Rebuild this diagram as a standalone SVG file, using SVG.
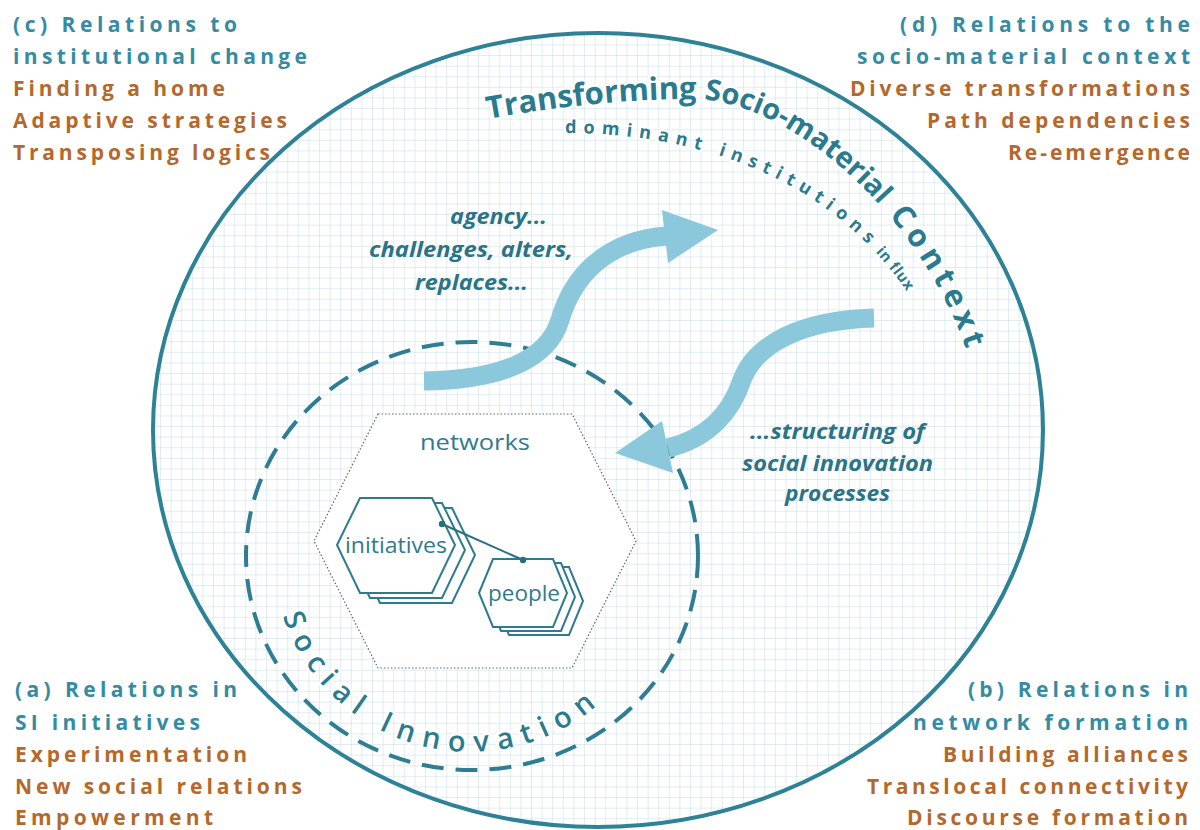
<svg xmlns="http://www.w3.org/2000/svg" width="1200" height="830" viewBox="0 0 1200 830">
<defs>
<pattern id="grid" width="10.6" height="10.6" patternUnits="userSpaceOnUse" x="2" y="3">
<path d="M10.6 0 V10.6 M0 10.6 H10.6" stroke="#c3dbe7" stroke-width="1" fill="none"/>
</pattern>
<path id="titlePath" d="M488,119 C560,106 630,99 692,99 C792,99 930,222 972,368"/>
<path id="subPath" d="M565,133 C700,133 850,178 930,330"/>
<path id="siPath" d="M283,616 A197,197 0 0,0 630,670"/>
</defs>
<style>
.hd{font-family:"Open Sans",Lato,sans-serif;font-weight:bold;font-size:21px;fill:#348ca3}
.or{font-family:"Open Sans",Lato,sans-serif;font-weight:bold;font-size:21px;fill:#b5682b}
.it{font-family:"Open Sans",Lato,sans-serif;font-weight:bold;font-style:italic;font-size:21px;fill:#2b7487}
.lbl{font-family:"Open Sans",Lato,sans-serif;font-size:21px;fill:#2f7b8e}
.curve{font-family:"Open Sans",Lato,sans-serif;font-weight:bold;fill:#2a7b8e;stroke:#ffffff;stroke-width:5;stroke-opacity:0.85;stroke-linejoin:round;paint-order:stroke}
.hex{fill:#ffffff;stroke:#2e7b8e;stroke-width:2}
.flow{fill:none;stroke:#8cc8db;stroke-width:19}
.head{fill:#8cc8db}
</style>
<rect width="1200" height="830" fill="#ffffff"/>
<g id="context">
<ellipse cx="598" cy="430" rx="445" ry="397" fill="url(#grid)"/>
<ellipse cx="598" cy="430" rx="445" ry="397" fill="none" stroke="#2e8296" stroke-width="4"/>
</g>
<g id="social-innovation">
<ellipse cx="472" cy="556" rx="226" ry="214" fill="none" stroke="#2e7d92" stroke-width="4" stroke-dasharray="22 12"/>
</g>
<g id="networks">
<polygon points="378,414 572,414 636,541 572,668 378,668 314,541" fill="#ffffff" stroke="#666" stroke-width="1.2" stroke-dasharray="1.5 2"/>
<text class="lbl" x="420" y="450" textLength="110" lengthAdjust="spacingAndGlyphs">networks</text>
</g>
<g id="initiatives">
<polygon class="hex" transform="translate(20,10)" points="337,545 360,498 432,498 455,545 432,593 360,593"/>
<polygon class="hex" transform="translate(10,5)" points="337,545 360,498 432,498 455,545 432,593 360,593"/>
<polygon class="hex" points="337,545 360,498 432,498 455,545 432,593 360,593"/>
<text class="lbl" x="345" y="553" textLength="102" lengthAdjust="spacingAndGlyphs">initiatives</text>
</g>
<g id="people">
<polygon class="hex" transform="translate(16,8)" points="479,593 493,559 553,559 567,593 553,627 493,627"/>
<polygon class="hex" transform="translate(8,4)" points="479,593 493,559 553,559 567,593 553,627 493,627"/>
<polygon class="hex" points="479,593 493,559 553,559 567,593 553,627 493,627"/>
<text class="lbl" x="488" y="601" textLength="72" lengthAdjust="spacingAndGlyphs">people</text>
</g>
<g id="connectors">
<line x1="442" y1="524" x2="523" y2="560" stroke="#2a6f80" stroke-width="2"/>
<circle cx="442" cy="524" r="3.2" fill="#2a6f80"/>
<circle cx="523" cy="560" r="3.2" fill="#2a6f80"/>
<path class="flow" d="M424,381 C500,380 548,360 560,320 C572,278 605,240 667,236"/>
<polygon class="head" points="662,210 718,230 668,263"/>
<path class="flow" d="M874,318 C800,320 755,345 742,380 C732,410 710,438 668,448"/>
<polygon class="head" points="662,421 615,453 673,473"/>
</g>
<g id="curved-labels">
<text class="curve" font-size="31"><textPath href="#titlePath">Transforming<tspan font-size="29" letter-spacing="0"> Socio-material</tspan><tspan letter-spacing="5.5"> Context</tspan></textPath></text>
<text class="curve" font-size="18" letter-spacing="7"><textPath href="#subPath">dominant<tspan letter-spacing="6.5"> institutions</tspan><tspan font-size="15" letter-spacing="0.5"> in flux</tspan></textPath></text>
<text class="curve" font-size="29" letter-spacing="9" style="font-weight:600"><textPath href="#siPath">Social Innovation</textPath></text>
</g>
<g id="flow-labels">
<text class="it" x="450" y="224" textLength="97" lengthAdjust="spacingAndGlyphs">agency...</text>
<text class="it" x="369" y="257" textLength="204" lengthAdjust="spacingAndGlyphs">challenges, alters,</text>
<text class="it" x="415" y="290" textLength="113" lengthAdjust="spacingAndGlyphs">replaces...</text>
<text class="it" x="750" y="439" textLength="175" lengthAdjust="spacingAndGlyphs">...structuring of</text>
<text class="it" x="742" y="471" textLength="191" lengthAdjust="spacingAndGlyphs">social innovation</text>
<text class="it" x="785" y="501" textLength="105" lengthAdjust="spacingAndGlyphs">processes</text>
</g>
<g id="corner-c">
<text class="hd" x="13" y="32" textLength="224" lengthAdjust="spacing">(c) Relations to</text>
<text class="hd" x="13" y="64" textLength="294" lengthAdjust="spacing">institutional change</text>
<text class="or" x="13" y="96" textLength="212" lengthAdjust="spacing">Finding a home</text>
<text class="or" x="13" y="128" textLength="274" lengthAdjust="spacing">Adaptive strategies</text>
<text class="or" x="13" y="160" textLength="257" lengthAdjust="spacing">Transposing logics</text>
</g>
<g id="corner-d">
<text class="hd" x="900" y="32" textLength="290" lengthAdjust="spacing">(d) Relations to the</text>
<text class="hd" x="857" y="64" textLength="333" lengthAdjust="spacing">socio-material context</text>
<text class="or" x="850" y="96" textLength="340" lengthAdjust="spacing">Diverse transformations</text>
<text class="or" x="927" y="128" textLength="263" lengthAdjust="spacing">Path dependencies</text>
<text class="or" x="1008" y="160" textLength="182" lengthAdjust="spacing">Re-emergence</text>
</g>
<g id="corner-a">
<text class="hd" x="15" y="697" textLength="222" lengthAdjust="spacing">(a) Relations in</text>
<text class="hd" x="15" y="730" textLength="185" lengthAdjust="spacing">SI initiatives</text>
<text class="or" x="15" y="762" textLength="232" lengthAdjust="spacing">Experimentation</text>
<text class="or" x="15" y="794" textLength="287" lengthAdjust="spacing">New social relations</text>
<text class="or" x="15" y="825" textLength="198" lengthAdjust="spacing">Empowerment</text>
</g>
<g id="corner-b">
<text class="hd" x="968" y="697" textLength="220" lengthAdjust="spacing">(b) Relations in</text>
<text class="hd" x="913" y="730" textLength="275" lengthAdjust="spacing">network formation</text>
<text class="or" x="943" y="762" textLength="245" lengthAdjust="spacing">Building alliances</text>
<text class="or" x="867" y="794" textLength="321" lengthAdjust="spacing">Translocal connectivity</text>
<text class="or" x="907" y="825" textLength="281" lengthAdjust="spacing">Discourse formation</text>
</g>
</svg>
